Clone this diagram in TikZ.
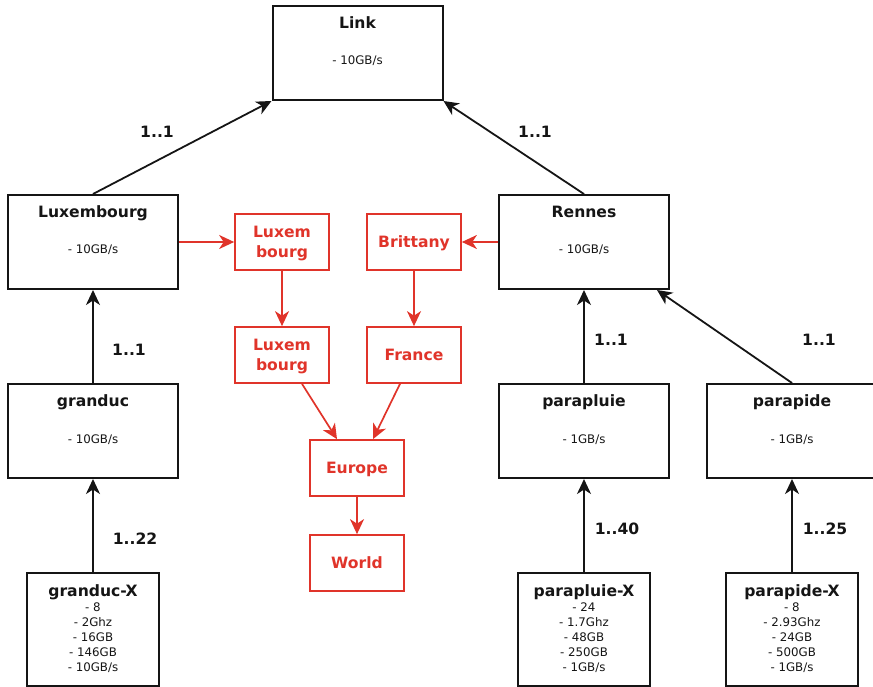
\documentclass[tikz,border=0pt]{standalone}
\usepackage{fontspec}
\setmainfont{DejaVu Sans}
\usetikzlibrary{arrows.meta}
\definecolor{geored}{HTML}{E0342A}
\definecolor{inkblack}{HTML}{151515}

\begin{document}
\begin{tikzpicture}[x=1pt,y=-1pt,
    site/.style={draw=inkblack,line width=2pt,minimum width=170pt,minimum height=94pt,inner sep=0pt},
    machine/.style={draw=inkblack,line width=2pt,minimum width=132pt,minimum height=113pt,inner sep=0pt},
    zone/.style={draw=geored,line width=1.7pt,text=geored,minimum width=94pt,minimum height=56pt,inner sep=0pt,text depth=0pt,align=center,font=\fontsize{15.6}{20}\selectfont\bfseries},
    head/.style={anchor=base,inner sep=0pt,text=inkblack,font=\fontsize{15.6}{18}\selectfont\bfseries},
    spec/.style={anchor=base,inner sep=0pt,text=inkblack,font=\fontsize{11.8}{15}\selectfont},
    specs/.style={anchor=north,inner sep=0pt,align=center,text=inkblack,font=\fontsize{11.8}{15}\selectfont},
    mult/.style={inner sep=0pt,text=inkblack,font=\fontsize{15.6}{18}\selectfont\bfseries},
    conn/.style={color=inkblack,line width=1.8pt,-{Stealth[length=15pt,width=14pt,inset=4.5pt]}},
    redconn/.style={color=geored,line width=1.7pt,-{Stealth[length=15pt,width=14pt,inset=4.5pt]}}]
    \useasboundingbox (0,0) rectangle (873,687);

    % sites
    \node[site] (link) at (357.5,53) {};
    \node[site] (lux) at (93,242) {};
    \node[site] (ren) at (584,242) {};
    \node[site] (gra) at (93,431) {};
    \node[site] (plu) at (584,431) {};
    \node[site] (pid) at (792,431) {};

    \node[head] (link-t) at ([yshift=-23.5pt]link.north) {Link};
    \node[spec] (link-s) at ([yshift=-60pt]link.north) {- 10GB/s};
    \node[head] (lux-t) at ([yshift=-23.5pt]lux.north) {Luxembourg};
    \node[spec] (lux-s) at ([yshift=-60pt]lux.north) {- 10GB/s};
    \node[head] (ren-t) at ([yshift=-23.5pt]ren.north) {Rennes};
    \node[spec] (ren-s) at ([yshift=-60pt]ren.north) {- 10GB/s};
    \node[head] (gra-t) at ([yshift=-23.5pt]gra.north) {granduc};
    \node[spec] (gra-s) at ([yshift=-60pt]gra.north) {- 10GB/s};
    \node[head] (plu-t) at ([yshift=-23.5pt]plu.north) {parapluie};
    \node[spec] (plu-s) at ([yshift=-60pt]plu.north) {- 1GB/s};
    \node[head] (pid-t) at ([yshift=-23.5pt]pid.north) {parapide};
    \node[spec] (pid-s) at ([yshift=-60pt]pid.north) {- 1GB/s};

    % machines
    \node[machine] (grax) at (93,629.5) {};
    \node[machine] (plux) at (584,629.5) {};
    \node[machine] (pidx) at (792,629.5) {};
    \node[specs] (grax-t) at ([yshift=-12pt]grax.north)
        {{\fontsize{15.6}{15}\selectfont\bfseries granduc-X}\\- 8\\- 2Ghz\\- 16GB\\- 146GB\\- 10GB/s};
    \node[specs] (plux-t) at ([yshift=-12pt]plux.north)
        {{\fontsize{15.6}{15}\selectfont\bfseries parapluie-X}\\- 24\\- 1.7Ghz\\- 48GB\\- 250GB\\- 1GB/s};
    \node[specs] (pidx-t) at ([yshift=-12pt]pidx.north)
        {{\fontsize{15.6}{15}\selectfont\bfseries parapide-X}\\- 8\\- 2.93Ghz\\- 24GB\\- 500GB\\- 1GB/s};

    % zones
    \node[zone] (luxa) at (282,242) {Luxem\\bourg};
    \node[zone] (brit) at (414,242) {Brittany};
    \node[zone] (luxb) at (282,355) {Luxem\\bourg};
    \node[zone] (fr) at (414,355) {France};
    \node[zone] (eur) at (357,468) {Europe};
    \node[zone] (wor) at (357,563) {World};

    % multiplicities
    \node[mult] (m1) at (157,132) {1..1};
    \node[mult] (m2) at (535,132) {1..1};
    \node[mult] (m3) at (129,350) {1..1};
    \node[mult] (m4) at (135,539) {1..22};
    \node[mult] (m5) at (611,340) {1..1};
    \node[mult] (m6) at (819,340) {1..1};
    \node[mult] (m7) at (617,529) {1..40};
    \node[mult] (m8) at (825,529) {1..25};

    \path[conn]
	(lux.north) edge (link.south west)
	(ren.north) edge (link.south east)
	(gra.north) edge (lux.south)
	(grax.north) edge (gra.south)
	(plu.north) edge (ren.south)
	(pid.north) edge ([xshift=-13pt]ren.south east)
	(plux.north) edge (plu.south)
	(pidx.north) edge (pid.south);

    \path[redconn]
	(lux.east) edge (luxa.west)
	(ren.west) edge (brit.east)
	(luxa.south) edge (luxb.north)
	(brit.south) edge (fr.north)
	([xshift=20pt]luxb.south) edge ([xshift=-20pt]eur.north)
	([xshift=-14pt]fr.south) edge ([xshift=16pt]eur.north)
	(eur.south) edge (wor.north);
\end{tikzpicture}
\end{document}
